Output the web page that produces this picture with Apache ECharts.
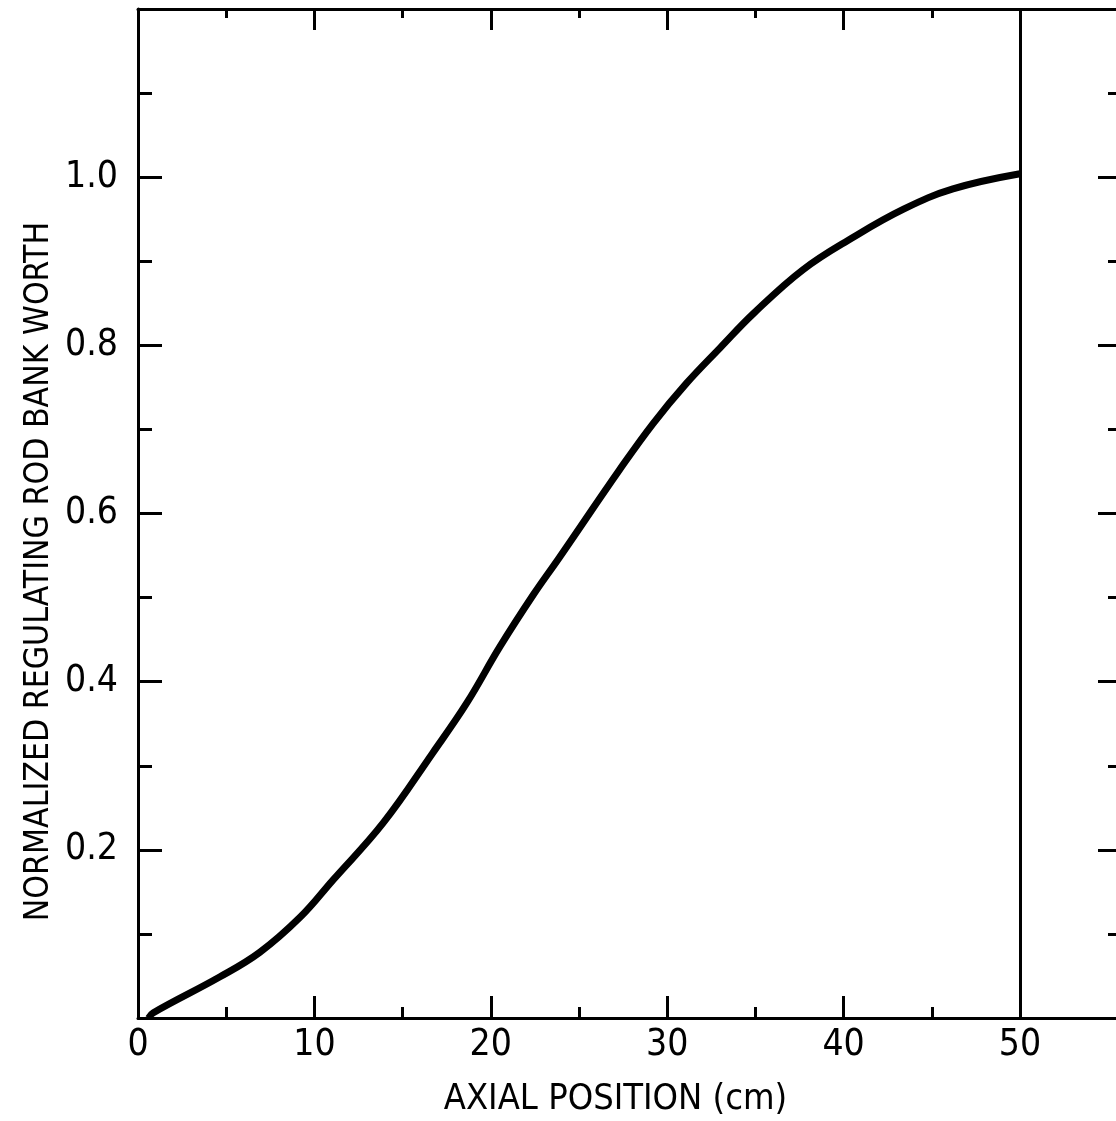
<!DOCTYPE html>
<html>
<head>
<meta charset="utf-8">
<title>Normalized regulating rod bank worth</title>
<script src="https://cdn.jsdelivr.net/npm/echarts@6/dist/echarts.min.js"></script>
<style>
  html, body { margin: 0; padding: 0; background: #fff; }
  #chart { width: 1116px; height: 1121px; }
</style>
</head>
<body>
<div id="chart"></div>
<script>
// curve: axial position (cm) -> normalized worth
const axialPos = [0.6, 0.85, 4.65, 6.9, 9.2, 11.05, 13.9, 16.7, 18.65, 20.5, 22.4, 23.9, 27.3, 29.2, 31.1, 33.0, 34.9, 37.7, 40.5, 43.4, 46.2, 50];
const bankWorth = [0.0, 0.006, 0.049, 0.078, 0.12, 0.164, 0.232, 0.315, 0.375, 0.441, 0.503, 0.548, 0.652, 0.707, 0.755, 0.797, 0.838, 0.89, 0.928, 0.962, 0.986, 1.004];

// axis ticks / labels
const xTickLabels = [0, 10, 20, 30, 40, 50];
const xMajorTicks = [10, 20, 30, 40];
const xMinorTicks = [5, 15, 25, 35, 45];
const yTickLabels = [0.2, 0.4, 0.6, 0.8, 1.0];
const yMajorTicks = [0.2, 0.4, 0.6, 0.8, 1.0];
const yMinorTicks = [0.1, 0.3, 0.5, 0.7, 0.9, 1.1];
const coreTop = 50;

const font = "'Liberation Sans Narrow', 'DejaVu Sans Condensed', 'Liberation Sans', sans-serif";
const black = '#000';

let chart = echarts.init(document.getElementById('chart'), null, { renderer: 'canvas' });

function frameAxis(extra) {
  let base = {
    type: 'value',
    axisLine: { show: true, onZero: false, lineStyle: { color: black, width: 3 } },
    axisTick: { show: false },
    minorTick: { show: false },
    splitLine: { show: false },
    axisLabel: { show: false }
  };
  return Object.assign(base, extra);
}

function tickAxis(values, len, extra) {
  return frameAxis(Object.assign({
    axisLine: { show: false, onZero: false },
    axisTick: { show: true, inside: true, length: len, customValues: values, lineStyle: { color: black, width: 3 } }
  }, extra));
}

const xRange = { min: 0, max: 55.5 };
const yRange = { min: 0, max: 1.2 };

let points = axialPos.map((x, i) => [x, bankWorth[i]]);

let option = {
  backgroundColor: '#fff',
  animation: false,
  grid: { left: 138, top: 9, width: 979, height: 1009, outerBoundsMode: 'none' },
  xAxis: [
    frameAxis(Object.assign({
      position: 'bottom',
      axisTick: { show: true, inside: true, length: 22, customValues: xMajorTicks, lineStyle: { color: black, width: 3 } },
      axisLabel: {
        show: true, margin: 9, color: black, fontSize: 37, fontFamily: font,
        customValues: xTickLabels,
        formatter: v => String(v)
      },
      name: 'AXIAL POSITION (cm)',
      nameLocation: 'middle',
      nameGap: 64,
      nameMoveOverlap: false,
      nameTextStyle: { color: black, fontSize: 36, fontFamily: font, padding: [0, 24, 0, 0] }
    }, xRange)),
    tickAxis(xMinorTicks, 11, Object.assign({ position: 'bottom' }, xRange)),
    frameAxis(Object.assign({
      position: 'top',
      axisTick: { show: true, inside: true, length: 21, customValues: xMajorTicks, lineStyle: { color: black, width: 3 } }
    }, xRange)),
    tickAxis(xMinorTicks, 9, Object.assign({ position: 'top' }, xRange))
  ],
  yAxis: [
    frameAxis(Object.assign({
      position: 'left',
      axisTick: { show: true, inside: true, length: 24, customValues: yMajorTicks, lineStyle: { color: black, width: 3 } },
      axisLabel: {
        show: true, margin: 20, color: black, fontSize: 37, fontFamily: font,
        customValues: yTickLabels,
        formatter: v => v.toFixed(1)
      },
      name: 'NORMALIZED REGULATING ROD BANK WORTH',
      nameLocation: 'middle',
      nameGap: 82,
      nameMoveOverlap: false,
      nameTextStyle: { color: black, fontSize: 33.5, fontFamily: font, padding: [0, 116, 0, 0] }
    }, yRange)),
    tickAxis(yMinorTicks, 14, Object.assign({ position: 'left' }, yRange)),
    frameAxis(Object.assign({
      position: 'right',
      axisTick: { show: true, inside: true, length: 19, customValues: yMajorTicks, lineStyle: { color: black, width: 3 } }
    }, yRange)),
    tickAxis(yMinorTicks, 9, Object.assign({ position: 'right' }, yRange))
  ],
  series: [
    {
      type: 'line',
      xAxisIndex: 0,
      yAxisIndex: 0,
      data: points,
      showSymbol: false,
      symbol: 'none',
      smooth: 0.4,
      clip: false,
      lineStyle: { color: black, width: 7 },
      markLine: {
        silent: true,
        symbol: 'none',
        label: { show: false },
        lineStyle: { color: black, width: 3, type: 'solid' },
        data: [{ xAxis: coreTop }]
      }
    }
  ]
};

chart.setOption(option);
</script>
</body>
</html>
